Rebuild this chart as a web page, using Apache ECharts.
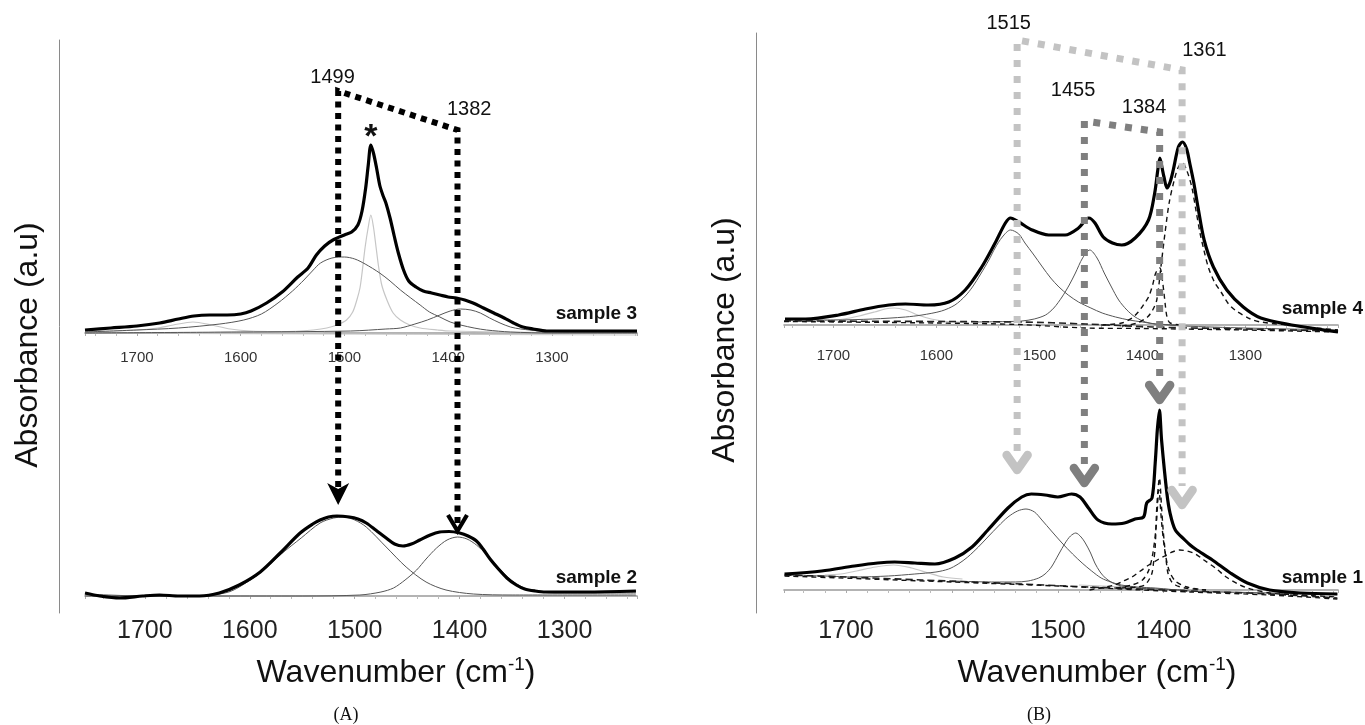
<!DOCTYPE html>
<html><head><meta charset="utf-8">
<script src="https://cdn.jsdelivr.net/npm/echarts@6/dist/echarts.min.js"></script>
<style>html,body{margin:0;padding:0;background:#fff}#c{width:1365px;height:725px}</style>
</head><body><div id="c"></div>
<script>
// ---------- tick labels ----------
const tickValues = [1300, 1400, 1500, 1600, 1700];

// ---------- panel A, top : sample 3 ----------
const s3Total = [[1750,0.03],[1725,0.05],[1700,0.07],[1678,0.10],[1660,0.14],[1645,0.17],[1630,0.18],[1613,0.18],[1600,0.19],[1590,0.22],[1575,0.30],[1560,0.41],[1545,0.56],[1535,0.65],[1527,0.78],[1519,0.87],[1511,0.93],[1500,0.98],[1493,1.01],[1487,1.08],[1483,1.22],[1479.5,1.45],[1477,1.68],[1474.5,1.88],[1472,1.80],[1469,1.65],[1466,1.48],[1463,1.38],[1460,1.30],[1456,1.15],[1452,0.97],[1448,0.80],[1443,0.63],[1438,0.52],[1431,0.46],[1424,0.42],[1416,0.40],[1408,0.38],[1400,0.36],[1392,0.35],[1384,0.33],[1376,0.30],[1366,0.25],[1356,0.20],[1346,0.15],[1337,0.10],[1328,0.06],[1318,0.04],[1305,0.02],[1280,0.02],[1250,0.02],[1218,0.02]];
const s3Band1500 = [[1750,0.01],[1700,0.03],[1660,0.05],[1620,0.09],[1597,0.13],[1580,0.19],[1564,0.30],[1550,0.42],[1539,0.53],[1530,0.63],[1523,0.70],[1512,0.75],[1500,0.76],[1490,0.74],[1480,0.69],[1466,0.60],[1456,0.52],[1446,0.43],[1436,0.35],[1427,0.28],[1418,0.21],[1408,0.16],[1398,0.11],[1388,0.08],[1375,0.05],[1363,0.03],[1340,0.01],[1300,0.0],[1218,0.0]];
const s3Band1474 = [[1650,0.0],[1600,0.01],[1560,0.015],[1543,0.02],[1530,0.03],[1517,0.05],[1507,0.08],[1498,0.13],[1492,0.21],[1488,0.33],[1485,0.45],[1483,0.60],[1480,0.86],[1477,1.06],[1474.5,1.18],[1472,1.06],[1469.5,0.86],[1467,0.66],[1464,0.48],[1459,0.33],[1453,0.20],[1446,0.13],[1437,0.08],[1427,0.05],[1410,0.03],[1398,0.02],[1350,0.01],[1218,0.0]];
const s3Band1645 = [[1750,0.01],[1700,0.03],[1680,0.05],[1665,0.08],[1646,0.11],[1628,0.08],[1610,0.04],[1590,0.02],[1550,0.01],[1520,0.0]];
const s3Band1388 = [[1750,0.0],[1600,0.01],[1494,0.02],[1460,0.04],[1446,0.05],[1432,0.09],[1420,0.13],[1408,0.18],[1398,0.22],[1388,0.24],[1378,0.23],[1369,0.20],[1360,0.15],[1350,0.10],[1340,0.06],[1330,0.04],[1310,0.02],[1280,0.01],[1218,0.01]];
const s3Baseline = [[1660,-0.005],[1218,-0.02]];

// ---------- panel A, bottom : sample 2 ----------
const s2Total = [[1757,0.03],[1743,0.0],[1724,-0.02],[1702,0.0],[1686,0.01],[1667,0.0],[1648,0.0],[1629,0.03],[1610,0.11],[1590,0.24],[1571,0.43],[1552,0.63],[1540,0.72],[1533,0.76],[1525,0.79],[1517,0.80],[1505,0.79],[1497,0.77],[1489,0.73],[1480,0.66],[1470,0.58],[1462,0.52],[1454,0.50],[1446,0.52],[1438,0.56],[1428,0.61],[1419,0.64],[1410,0.645],[1400,0.63],[1392,0.60],[1384,0.55],[1377,0.46],[1371,0.37],[1363,0.27],[1355,0.18],[1346,0.11],[1338,0.07],[1328,0.05],[1318,0.04],[1280,0.04],[1232,0.05]];
const s2Band1511 = [[1757,0.02],[1700,0.0],[1650,0.0],[1635,0.01],[1620,0.04],[1610,0.09],[1590,0.23],[1570,0.42],[1551,0.58],[1533,0.73],[1520,0.78],[1511,0.79],[1500,0.76],[1489,0.69],[1470,0.49],[1451,0.29],[1432,0.14],[1413,0.06],[1387,0.02],[1350,0.01],[1232,0.01]];
const s2Band1402 = [[1757,0.0],[1550,0.0],[1495,0.01],[1475,0.04],[1463,0.08],[1452,0.16],[1441,0.26],[1432,0.37],[1422,0.48],[1412,0.56],[1402,0.59],[1393,0.57],[1384,0.51],[1375,0.42],[1367,0.33],[1358,0.23],[1350,0.15],[1342,0.10],[1334,0.06],[1310,0.03],[1232,0.03]];

// ---------- panel B, top : sample 4 ----------
const s4Total = [[1747,0.06],[1727,0.06],[1695,0.10],[1669,0.16],[1646,0.20],[1630,0.21],[1608,0.20],[1588,0.23],[1572,0.35],[1556,0.58],[1543,0.82],[1533,1.02],[1528,1.07],[1520,1.03],[1507,0.95],[1491,0.90],[1475,0.90],[1462,0.97],[1452,1.07],[1446,1.02],[1438,0.88],[1429,0.82],[1420,0.80],[1407,0.87],[1394,1.05],[1388,1.32],[1385,1.55],[1383,1.67],[1381,1.58],[1379,1.48],[1376,1.37],[1373,1.43],[1370,1.55],[1365,1.78],[1361,1.83],[1357,1.76],[1354,1.62],[1350,1.42],[1346,1.18],[1340,0.85],[1331,0.58],[1318,0.35],[1302,0.18],[1285,0.07],[1255,0.0],[1230,-0.04],[1210,-0.07]];
const s4Band1641 = [[1710,0.045],[1690,0.06],[1675,0.09],[1660,0.13],[1650,0.16],[1641,0.17],[1630,0.15],[1618,0.10],[1605,0.06],[1590,0.035],[1570,0.03]];
const s4Band1528 = [[1747,0.05],[1700,0.05],[1662,0.06],[1630,0.08],[1614,0.10],[1595,0.14],[1582,0.20],[1572,0.29],[1565,0.38],[1557,0.51],[1549,0.65],[1543,0.77],[1536,0.88],[1528,0.95],[1520,0.91],[1514,0.82],[1506,0.71],[1497,0.58],[1489,0.47],[1481,0.38],[1472,0.30],[1462,0.23],[1450,0.17],[1439,0.12],[1426,0.08],[1413,0.05],[1400,0.03],[1387,0.01],[1360,-0.01],[1300,-0.03],[1210,-0.05]];
const s4Band1451 = [[1560,0.03],[1530,0.035],[1517,0.04],[1505,0.06],[1494,0.10],[1486,0.17],[1478,0.28],[1471,0.40],[1465,0.52],[1458,0.67],[1451,0.75],[1444,0.67],[1437,0.52],[1430,0.38],[1423,0.25],[1415,0.15],[1407,0.08],[1397,0.03],[1387,0.01],[1360,0.0]];
const s4Dash1383 = [[1440,0.0],[1420,0.02],[1410,0.07],[1404,0.13],[1399,0.20],[1394,0.28],[1390,0.40],[1387,0.52],[1383,0.57],[1381,0.48],[1379,0.32],[1377.5,0.18],[1376,0.08],[1373,0.02],[1360,0.0]];
const s4Dash1361 = [[1420,-0.01],[1405,0.02],[1395,0.08],[1390,0.15],[1386,0.25],[1382,0.58],[1378,0.92],[1374,1.22],[1369,1.45],[1365,1.58],[1361,1.62],[1357,1.55],[1352,1.38],[1348,1.15],[1344,0.92],[1340,0.74],[1336,0.58],[1330,0.43],[1323,0.32],[1317,0.22],[1310,0.15],[1295,0.06],[1285,0.03],[1250,-0.01],[1210,-0.05]];
const s4DashBase1 = [[1748,0.04],[1520,0.03],[1455,0.01],[1390,-0.02],[1300,-0.04],[1210,-0.06]];
const s4DashBase2 = [[1748,0.035],[1600,0.02],[1520,0.005],[1455,-0.03],[1400,-0.035],[1300,-0.05],[1210,-0.07]];

// ---------- panel B, bottom : sample 1 ----------
const s1Total = [[1758,0.16],[1723,0.19],[1692,0.24],[1670,0.27],[1654,0.28],[1635,0.27],[1616,0.26],[1597,0.32],[1581,0.43],[1566,0.60],[1547,0.82],[1534,0.93],[1525,0.96],[1512,0.95],[1500,0.93],[1487,0.96],[1479,0.93],[1471,0.82],[1462,0.70],[1449,0.66],[1437,0.67],[1427,0.71],[1419,0.73],[1416,0.87],[1411,0.92],[1408,1.27],[1406,1.60],[1404,1.80],[1402,1.50],[1397,0.97],[1394,0.77],[1389,0.60],[1380,0.50],[1375,0.45],[1370,0.41],[1354,0.30],[1337,0.17],[1321,0.07],[1300,0.0],[1271,-0.03],[1236,-0.04]];
const s1Band1655 = [[1720,0.15],[1705,0.16],[1690,0.19],[1672,0.23],[1655,0.25],[1638,0.22],[1622,0.17],[1608,0.13],[1590,0.11]];
const s1Band1530 = [[1758,0.15],[1720,0.14],[1692,0.13],[1660,0.14],[1635,0.16],[1615,0.18],[1603,0.21],[1594,0.26],[1585,0.33],[1575,0.43],[1566,0.53],[1556,0.64],[1547,0.73],[1538,0.79],[1530,0.81],[1522,0.78],[1515,0.70],[1506,0.59],[1496,0.47],[1486,0.36],[1477,0.27],[1468,0.19],[1459,0.12],[1450,0.08],[1440,0.05],[1425,0.03],[1408,0.02],[1375,-0.01],[1300,-0.03],[1236,-0.04]];
const s1Band1483 = [[1600,0.09],[1560,0.08],[1540,0.08],[1528,0.09],[1518,0.12],[1512,0.16],[1506,0.23],[1499,0.36],[1493,0.47],[1488,0.54],[1483,0.57],[1478,0.53],[1474,0.47],[1469,0.37],[1465,0.27],[1460,0.18],[1455,0.12],[1448,0.07],[1440,0.04],[1425,0.02],[1408,0.01],[1380,0.0]];
const s1Dash1404 = [[1440,0.02],[1425,0.03],[1418,0.05],[1414,0.10],[1411,0.17],[1409.5,0.28],[1408,0.43],[1406.5,0.83],[1404,1.12],[1402,0.83],[1400.5,0.60],[1399,0.43],[1397.5,0.28],[1396,0.17],[1393,0.09],[1389,0.05],[1380,0.02],[1360,0.0]];
const s1Dash1404b = [[1445,0.02],[1430,0.05],[1420,0.10],[1414,0.20],[1410,0.38],[1407,0.65],[1404.5,1.0],[1402,0.68],[1399,0.40],[1395,0.20],[1389,0.09],[1378,0.03],[1360,0.0]];
const s1Dash1385 = [[1470,0.0],[1446,0.05],[1438,0.09],[1430,0.13],[1422,0.19],[1414,0.25],[1406,0.30],[1399,0.34],[1392,0.38],[1385,0.40],[1378,0.39],[1370,0.36],[1362,0.30],[1350,0.21],[1341,0.13],[1330,0.06],[1321,0.02],[1300,-0.03],[1270,-0.05],[1236,-0.07]];
const s1DashBase1 = [[1758,0.15],[1700,0.13],[1628,0.10],[1534,0.06],[1471,0.03],[1375,-0.01],[1300,-0.04],[1236,-0.08]];
const s1DashBase2 = [[1758,0.14],[1600,0.08],[1500,0.04],[1420,0.0],[1375,-0.02],[1300,-0.05],[1236,-0.09]];
const s1Baseline = [[1480,0.05],[1420,0.02],[1375,-0.005],[1300,-0.03],[1236,-0.05]];

// ---------- annotations (wavenumber on the upper axis, absorbance) ----------
const annA      = { labels: ['1499', '1382'], at: [1506, 1391],     cornerAbs: [2.42, 2.03], tipAbs: [0.91, 0.64] };
const annBLight = { labels: ['1515', '1361'], at: [1521.6, 1361.4], cornerAbs: [2.85, 2.55], tipAbs: [1.15, 0.80] };
const annBDark  = { labels: ['1455', '1384'], at: [1456.3, 1383.2], cornerAbs: [2.04, 1.93], tipAbs: [1.02, 1.85] };
const starPeak  = [1474.5, 1.88];
const sampleNames = ['sample 3', 'sample 2', 'sample 4', 'sample 1'];
const sampleLabelAbs = [0.19, 0.18, 0.16, 0.125];

// ---------- axis extents ----------
const xRanges = [[1218, 1750], [1231, 1757], [1210, 1748], [1235.4, 1758.5]];
const yRanges = [[-0.12, 2.93], [-0.18, 2.16], [-0.18, 2.92], [-0.24, 2.10]];

// ---------- build ----------
const FF = '"Liberation Sans", Arial, Helvetica, sans-serif';
const chart = echarts.init(document.getElementById('c'), null, { renderer: 'canvas' });

const grids = [
  { left: 85,  top: 40,  width: 552, height: 305 },
  { left: 85,  top: 380, width: 552, height: 234 },
  { left: 784, top: 33,  width: 554, height: 310 },
  { left: 784, top: 380, width: 554, height: 234 },
  { left: 59,  top: 40,  width: 10,  height: 573 },
  { left: 756, top: 33,  width: 10,  height: 580 }
];
const labelSizes = [15, 25, 15, 25];

const xAxes = [0, 1, 2, 3].map(i => ({
  type: 'value', gridIndex: i, min: xRanges[i][0], max: xRanges[i][1], inverse: true, splitNumber: 5,
  axisLine: { show: true, lineStyle: { color: '#9a9a9a', width: 1.6 } },
  axisTick: { show: true, length: 3, lineStyle: { color: '#aaa' } },
  minorTick: { show: true, splitNumber: 5, length: 3, lineStyle: { color: '#bbb' } },
  splitLine: { show: false },
  axisLabel: {
    show: true, fontSize: labelSizes[i], fontFamily: FF, color: i % 2 ? '#222' : '#333', margin: 5,
    showMinLabel: false, showMaxLabel: false,
    formatter: v => tickValues.includes(Math.round(v)) && Math.abs(v - Math.round(v)) < 1e-6 ? String(Math.round(v)) : ''
  }
}));
xAxes.push({ type: 'value', gridIndex: 4, show: false, min: 0, max: 1 });
xAxes.push({ type: 'value', gridIndex: 5, show: false, min: 0, max: 1 });

const yAxes = [0, 1, 2, 3].map(i => ({
  type: 'value', gridIndex: i, min: yRanges[i][0], max: yRanges[i][1], show: false
}));
[4, 5].forEach(i => yAxes.push({
  type: 'value', gridIndex: i, min: 0, max: 1,
  axisLine: { show: true, lineStyle: { color: '#8a8a8a', width: 1 } },
  axisTick: { show: false }, axisLabel: { show: false }, splitLine: { show: false }
}));

const ST = {
  total: { color: '#000', width: 3.2 },
  band:  { color: '#555', width: 1 },
  light: { color: '#c6c6c6', width: 1.2 },
  dash:  { color: '#111', width: 1.4, type: [5, 4] },
  dashBase: { color: '#222', width: 1.6, type: [7, 4] }
};
function line(g, data, st, z) {
  return { type: 'line', xAxisIndex: g, yAxisIndex: g, data, showSymbol: false, symbol: 'none',
    smooth: 0.3, silent: true, animation: false, z: z || 2,
    lineStyle: { color: st.color, width: st.width, type: st.type || 'solid' } };
}
const series = [
  line(0, s3Baseline, ST.light, 1), line(0, s3Band1645, ST.light, 1), line(0, s3Band1474, ST.light, 1),
  line(0, s3Band1500, ST.band), line(0, s3Band1388, ST.band), line(0, s3Total, ST.total, 5),
  line(1, s2Band1511, ST.band), line(1, s2Band1402, ST.band), line(1, s2Total, ST.total, 5),
  line(2, s4Band1641, ST.light, 1), line(2, s4Band1528, ST.band), line(2, s4Band1451, ST.band),
  line(2, s4DashBase1, ST.dashBase, 3), line(2, s4DashBase2, ST.dash, 3),
  line(2, s4Dash1383, ST.dash, 3), line(2, s4Dash1361, ST.dash, 3), line(2, s4Total, ST.total, 5),
  line(3, s1Baseline, ST.light, 1), line(3, s1Band1655, ST.light, 1), line(3, s1Band1530, ST.band), line(3, s1Band1483, ST.band),
  line(3, s1DashBase1, ST.dashBase, 3), line(3, s1DashBase2, ST.dash, 3),
  line(3, s1Dash1404, ST.dash, 3), line(3, s1Dash1404b, ST.dash, 3), line(3, s1Dash1385, ST.dash, 3),
  line(3, s1Total, ST.total, 5)
];

chart.setOption({
  animation: false,
  grid: grids, xAxis: xAxes, yAxis: yAxes, series
});

// ---------- annotations ----------
const P = (g, w, v) => chart.convertToPixel({ gridIndex: g }, [w, v]);
function txt(x, y, text, font, extra) {
  return Object.assign({ type: 'text', x, y, z: 100, silent: true,
    style: Object.assign({ text, font, fill: '#111', textAlign: 'center', textVerticalAlign: 'middle', align: 'center', verticalAlign: 'middle' }, extra || {}) });
}
const g = [];
const f20 = '20px ' + FF;

// panel A bracket (black dotted)
{
  const c0 = P(0, annA.at[0], annA.cornerAbs[0]);
  const c1 = P(0, annA.at[1], annA.cornerAbs[1]);
  const t0 = P(1, 1500, annA.tipAbs[0])[1];
  const t1 = P(1, 1500, annA.tipAbs[1])[1];
  g.push({ type: 'polyline', z: 90, silent: true,
    shape: { points: [[c0[0], t0 - 18], [c0[0], c0[1]], [c1[0], c1[1]], [c1[0], t1 - 3]] },
    style: { stroke: '#000', lineWidth: 6, lineDash: [6, 5.5], fill: null } });
  g.push({ type: 'polygon', z: 91, silent: true,
    shape: { points: [[c0[0] - 11, t0 - 22], [c0[0], t0 - 16], [c0[0] + 11, t0 - 22], [c0[0], t0]] },
    style: { fill: '#000' } });
  g.push({ type: 'polyline', z: 91, silent: true,
    shape: { points: [[c1[0] - 9.5, t1 - 17], [c1[0], t1 - 1], [c1[0] + 9.5, t1 - 17]] },
    style: { stroke: '#000', lineWidth: 4.2, fill: null, lineJoin: 'miter' } });
  g.push(txt(c0[0] - 5.6, c0[1] - 13.7, annA.labels[0], f20));
  g.push(txt(c1[0] + 11.7, c1[1] - 21, annA.labels[1], f20));
  const pk = P(0, starPeak[0], starPeak[1]);
  g.push(txt(pk[0], pk[1] - 7, '*', 'bold 34px ' + FF));
}
// panel B brackets
function bracketB(ann, color, lab0, lab1) {
  const c0 = P(2, ann.at[0], ann.cornerAbs[0]);
  const c1 = P(2, ann.at[1], ann.cornerAbs[1]);
  const t0 = P(3, 1500, ann.tipAbs[0])[1];
  const t1 = P(3, 1500, ann.tipAbs[1])[1];
  g.push({ type: 'polyline', z: 90, silent: true,
    shape: { points: [[c0[0], t0 - 24], [c0[0], c0[1]], [c1[0], c1[1]], [c1[0], t1 - 24]] },
    style: { stroke: color, lineWidth: 7, lineDash: [7, 9], fill: null } });
  [[c0[0], t0], [c1[0], t1]].forEach(([x, t]) => {
    g.push({ type: 'polyline', z: 91, silent: true,
      shape: { points: [[x - 10.5, t - 20], [x, t - 5], [x + 10.5, t - 20]] },
      style: { stroke: color, lineWidth: 8.5, fill: null, lineCap: 'round', lineJoin: 'round' } });
  });
  g.push(txt(c0[0] + lab0[0], c0[1] + lab0[1], ann.labels[0], f20));
  g.push(txt(c1[0] + lab1[0], c1[1] + lab1[1], ann.labels[1], f20));
}
bracketB(annBLight, '#c3c3c3', [-8.4, -17], [22.3, -20]);
bracketB(annBDark, '#7f7f7f', [-11.3, -30.7], [-15.6, -25]);

// sample labels
[0, 1, 2, 3].forEach(i => {
  const right = P(i, xRanges[i][0], 0)[0] + (i >= 2 ? 25 : 0);
  const y = P(i, 1500, sampleLabelAbs[i])[1];
  g.push(txt(right, y, sampleNames[i], 'bold 19px ' + FF, { textAlign: 'right', align: 'right' }));
});

// axis titles
const rich = { a: { font: '32px ' + FF, fill: '#111', lineHeight: 40 }, s: { font: '19px ' + FF, fill: '#111', lineHeight: 40, verticalAlign: 'top', padding: [2, 0, 0, 0] } };
g.push(txt(396, 673, '{a|Wavenumber (cm}{s|-1}{a|)}', '32px ' + FF, { rich }));
g.push(txt(1097, 673, '{a|Wavenumber (cm}{s|-1}{a|)}', '32px ' + FF, { rich }));
g.push(txt(28, 345, 'Absorbance (a.u)', '32px ' + FF));
g[g.length - 1].rotation = Math.PI / 2;
g.push(txt(725, 340, 'Absorbance (a.u)', '32px ' + FF));
g[g.length - 1].rotation = Math.PI / 2;
g.push(txt(346, 715, '(A)', '18px "Liberation Serif", "Times New Roman", serif'));
g.push(txt(1039, 715, '(B)', '18px "Liberation Serif", "Times New Roman", serif'));

chart.setOption({ graphic: { elements: g } });
</script>
</body></html>
